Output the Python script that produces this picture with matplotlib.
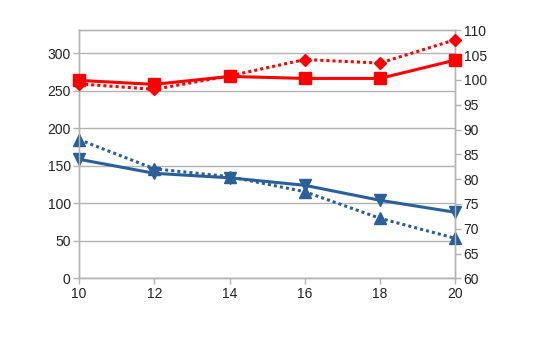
import matplotlib
matplotlib.use("Agg")
import matplotlib.pyplot as plt

plt.rcParams['font.family'] = ['Liberation Sans', 'DejaVu Sans']

x = [10, 12, 14, 16, 18, 20]

# left axis series (blue)
blue_solid = [158.7, 140, 134, 124, 104, 88]
blue_dotted = [185, 146, 135.5, 115.5, 80, 53.3]

# right axis series (red)
red_solid = [99.9, 99.1, 100.7, 100.3, 100.3, 104.0]
red_dotted = [99.2, 98.1, 100.8, 104.1, 103.4, 108.1]

left_ticks = [0, 50, 100, 150, 200, 250, 300]
right_ticks = [60, 65, 70, 75, 80, 85, 90, 95, 100, 105, 110]

BLUE = '#2a6099'
RED = '#ff0000'
GRID = '#b3b3b3'
TXT = '#222222'

W, H = 534, 343
fig = plt.figure(figsize=(W / 100, H / 100), dpi=100)
ax = fig.add_axes([79 / W, (H - 278.3) / H, (455.3 - 79) / W, (278.3 - 30.3) / H])
ax2 = ax.twinx()

ax.plot(x, blue_solid, color=BLUE, lw=2.2, marker='v', ms=8, zorder=3, clip_on=False)
ax.plot(x, blue_dotted, color=BLUE, lw=2.2, ls=(0, (1, 1)), dash_capstyle='butt',
        marker='^', ms=8, zorder=3, clip_on=False)
ax2.plot(x, red_solid, color=RED, lw=2.2, marker='s', ms=8, zorder=3, clip_on=False)
ax2.plot(x, red_dotted, color=RED, lw=2.2, ls=(0, (1, 1)), dash_capstyle='butt',
         marker='D', ms=6, zorder=3, clip_on=False)

ax.set_xlim(10, 20)
ax.set_ylim(0, 330.67)
ax2.set_ylim(60, 110)
ax.set_xticks(x)
ax.set_yticks(left_ticks)
ax2.set_yticks(right_ticks)

ax.grid(axis='y', color=GRID, lw=1)
ax.set_axisbelow(True)

for a in (ax, ax2):
    for s in a.spines.values():
        s.set_color(GRID)
        s.set_linewidth(1)
    a.tick_params(colors=GRID, labelcolor=TXT, labelsize=10, length=4, width=1, pad=2)

fig.savefig('out.png', dpi=100)
